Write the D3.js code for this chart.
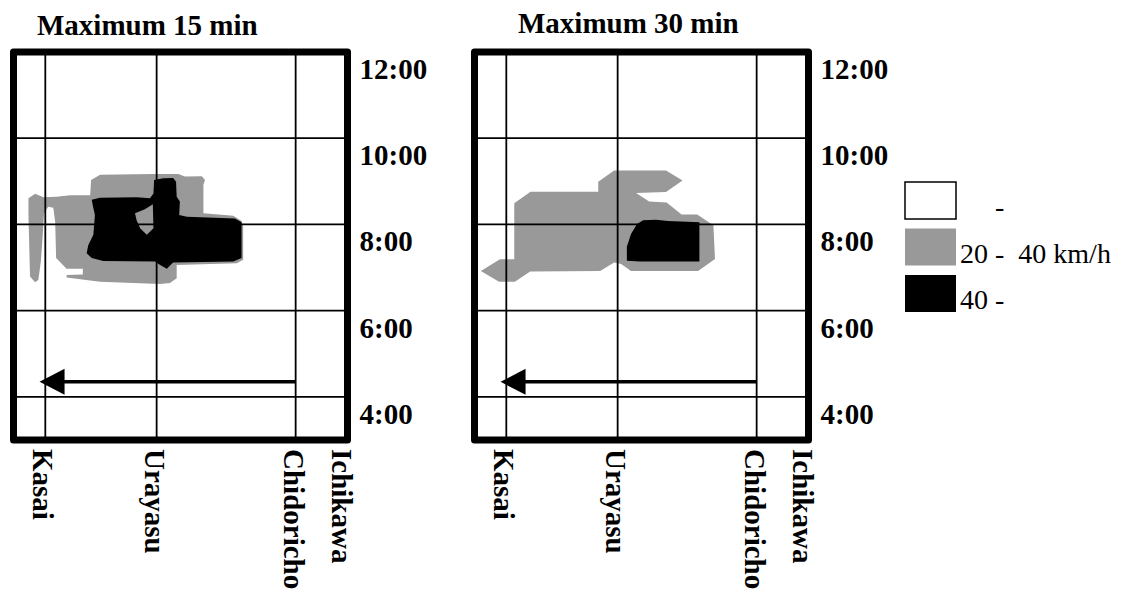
<!DOCTYPE html>
<html>
<head>
<meta charset="utf-8">
<script src="https://cdn.jsdelivr.net/npm/d3@7"></script>
<style>
  html, body { margin: 0; padding: 0; background: #fff; }
  svg { display: block; }
  text { font-family: "Liberation Serif", "Times New Roman", serif; fill: #000; }
</style>
</head>
<body>
<svg id="chart" width="1125" height="591"></svg>
<script>
// Stations along the route (km from the western end of the section)
const stations = ["Kasai", "Urayasu", "Chidoricho", "Ichikawa"];
const stationKm = [1.0, 4.5, 8.87, 10.5];
const gridStations = ["Kasai", "Urayasu", "Chidoricho"];

// Time of day (hours)
const hourTicks = [12, 10, 8, 6, 4];
const hourLabels = ["12:00", "10:00", "8:00", "6:00", "4:00"];

// Speed classes for the legend
const speedLabels = ["\u2007\u2007 -", "20 -  40 km/h", "40 -"];
const speedColors = ["#ffffff", "#999999", "#000000"];

const panelTitles = ["Maximum 15 min", "Maximum 30 min"];

// Areas by speed class, [km, hour] outlines
const grey15 = [
  [0.47,8.61],[0.68,8.71],[0.94,8.63],[1.36,8.64],[1.78,8.68],[2.41,8.68],[2.44,9.03],[2.72,9.15],
  [4.40,9.17],[5.18,9.17],[5.39,9.11],[5.92,9.12],[6.02,9.03],[5.97,8.92],[5.97,8.26],[6.91,8.20],
  [7.17,8.08],[7.22,7.95],[7.22,7.18],[7.02,7.10],[5.13,7.06],[5.13,6.75],[4.92,6.64],[4.61,6.62],
  [2.72,6.67],[1.67,6.77],[1.67,6.83],[2.18,6.84],[2.18,6.97],[1.67,6.97],[1.34,7.22],[1.31,8.06],
  [1.25,8.39],[1.09,8.41],[0.96,8.26],[0.92,7.76],[0.86,7.14],[0.78,6.71],[0.68,6.66],[0.52,6.79],
  [0.47,8.22]
];
const black15 = [
  [2.46,8.57],[2.72,8.62],[3.87,8.63],[4.29,8.61],[4.40,8.72],[4.42,9.03],[4.71,9.07],[5.02,9.08],
  [5.11,8.99],[5.13,8.64],[5.23,8.53],[5.21,8.22],[5.45,8.18],[6.96,8.14],[7.17,8.05],[7.17,7.22],
  [6.91,7.14],[5.02,7.12],[4.97,7.08],[4.82,6.97],[4.61,7.06],[4.45,7.14],[2.82,7.15],[2.46,7.22],
  [2.30,7.33],[2.35,7.52],[2.51,7.76],[2.56,8.22],[2.49,8.45]
];
const black15Gap = [
  [3.82,8.26],[4.13,8.35],[4.38,8.47],[4.40,7.91],[4.19,7.76],[3.98,7.91],[3.87,8.10]
];
const grey30 = [
  [0.20,6.92],[0.80,7.19],[1.25,7.19],[1.25,8.49],[1.76,8.76],[3.89,8.76],[3.89,8.99],[4.39,9.25],
  [6.02,9.25],[6.54,9.02],[6.02,8.75],[5.08,8.73],[5.49,8.53],[6.04,8.51],[6.51,8.23],[7.00,8.23],
  [7.51,7.98],[7.56,7.20],[7.03,6.92],[4.92,6.92],[4.61,7.08],[4.39,7.12],[3.95,6.92],[1.75,6.91],
  [1.27,6.67],[0.77,6.67]
];
const black30 = [
  [5.11,8.01],[5.30,8.10],[5.71,8.11],[6.08,8.08],[7.07,8.05],[7.07,7.14],[5.20,7.14],[4.79,7.16],
  [4.79,7.48],[4.92,7.78]
];

// Direction of travel: Chidoricho -> Kasai
const travelFromKm = 8.87;
const travelToKm = 0.82;
const travelHour = 4.35;

const panels = [
  { title: panelTitles[0], areas: [
      { color: speedColors[1], rings: [grey15] },
      { color: speedColors[2], rings: [black15, black15Gap] } ] },
  { title: panelTitles[1], areas: [
      { color: speedColors[1], rings: [grey30] },
      { color: speedColors[2], rings: [black30] } ] }
];

// Layout
const layout = [
  { x: 13.5, y: 52, titleX: 37, titleY: 35 },
  { x: 474.5, y: 52, titleX: 518, titleY: 33 }
];
const W = 334, H = 388;

const x = d3.scaleLinear().domain([0, 10.5]).range([0, W]);
const y = d3.scaleLinear().domain([3, 12]).range([H, 0]);
const kmOf = name => stationKm[stations.indexOf(name)];

const svg = d3.select("#chart");
svg.append("rect").attr("width", 1125).attr("height", 591).attr("fill", "#fff");

const ringPath = d3.line().x(d => x(d[0])).y(d => y(d[1]));

panels.forEach((p, i) => {
  const L = layout[i];
  const g = svg.append("g").attr("transform", `translate(${L.x},${L.y})`);

  svg.append("text")
    .attr("x", L.titleX).attr("y", L.titleY)
    .attr("font-size", 29).attr("font-weight", "bold")
    .text(p.title);

  // speed-class areas
  p.areas.forEach(a => {
    g.append("path")
      .attr("d", a.rings.map(r => ringPath(r) + "Z").join(""))
      .attr("fill", a.color)
      .attr("fill-rule", "evenodd");
  });

  // grid
  g.selectAll(".vgrid").data(gridStations).enter().append("line")
    .attr("x1", d => x(kmOf(d))).attr("x2", d => x(kmOf(d)))
    .attr("y1", 0).attr("y2", H)
    .attr("stroke", "#000").attr("stroke-width", 1.8);
  g.selectAll(".hgrid").data(hourTicks.filter(h => h < 12)).enter().append("line")
    .attr("x1", 0).attr("x2", W)
    .attr("y1", d => y(d)).attr("y2", d => y(d))
    .attr("stroke", "#000").attr("stroke-width", 1.8);

  // travel direction arrow
  const ay = y(travelHour);
  const tip = x(travelToKm);
  g.append("line")
    .attr("x1", x(travelFromKm)).attr("x2", tip + 20)
    .attr("y1", ay).attr("y2", ay)
    .attr("stroke", "#000").attr("stroke-width", 3.5);
  g.append("path")
    .attr("d", `M${tip},${ay}L${tip + 25},${ay - 13}L${tip + 25},${ay + 13}Z`)
    .attr("fill", "#000");

  // frame
  g.append("rect")
    .attr("x", 0).attr("y", 0).attr("width", W).attr("height", H)
    .attr("fill", "none").attr("stroke", "#000").attr("stroke-width", 7)
    .attr("stroke-linejoin", "round");

  // time labels
  g.selectAll(".hlabel").data(hourTicks).enter().append("text")
    .attr("x", W + 12).attr("y", d => y(d) + 27)
    .attr("font-size", 29).attr("font-weight", "bold")
    .text((d, j) => hourLabels[j]);

  // station labels
  g.selectAll(".slabel").data(stations).enter().append("text")
    .attr("transform", d => `translate(${Math.min(x(kmOf(d)), W - 4) - 12},${H + 9}) rotate(90)`)
    .attr("font-size", 29).attr("font-weight", "bold")
    .text(d => d);
});

// legend
const lg = svg.append("g").attr("transform", "translate(905,182)");
speedLabels.forEach((t, i) => {
  const top = i * 46.5;
  lg.append("rect")
    .attr("x", 0).attr("y", top).attr("width", 51).attr("height", 37)
    .attr("fill", speedColors[i])
    .attr("stroke", i === 0 ? "#000" : "none").attr("stroke-width", 1.5);
  lg.append("text")
    .attr("x", 55).attr("y", top + 34)
    .attr("font-size", 28)
    .style("white-space", "pre")
    .text(t);
});
</script>
</body>
</html>
